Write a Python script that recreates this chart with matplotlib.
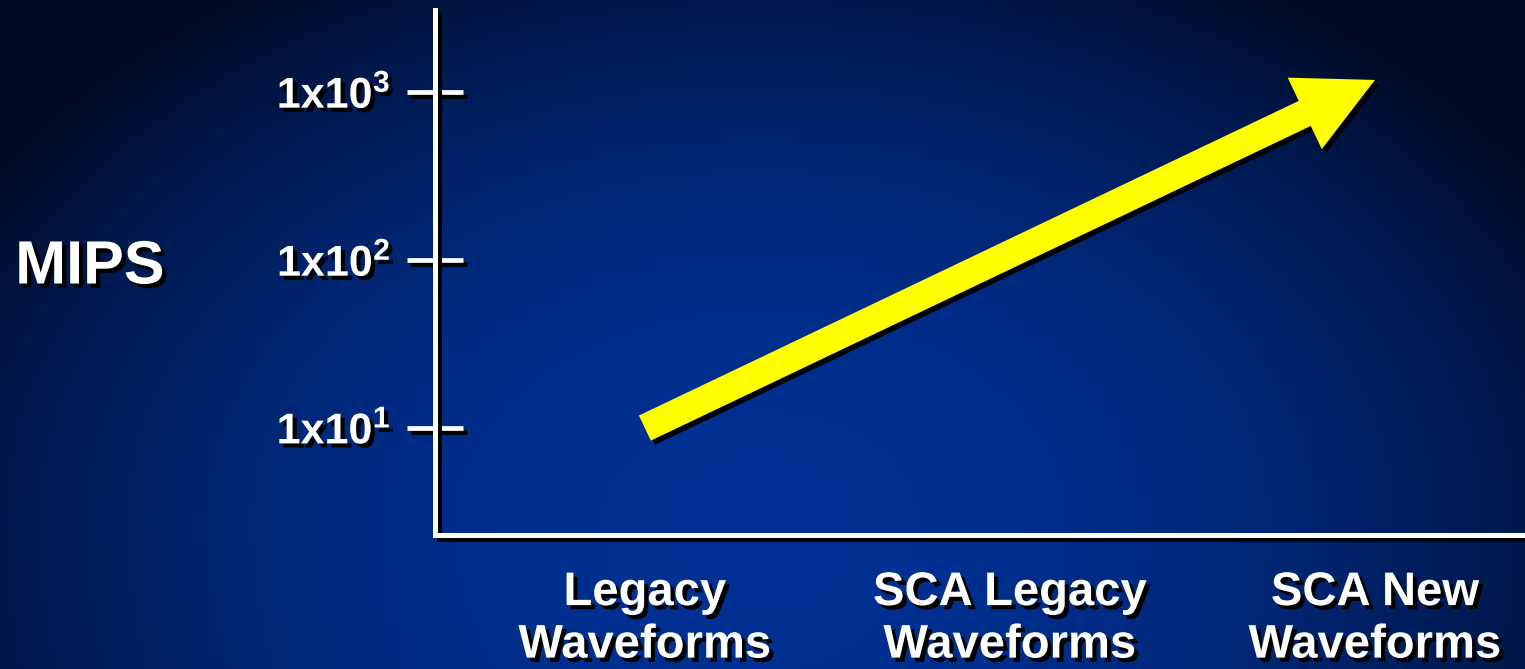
import numpy as np
import matplotlib.pyplot as plt
import matplotlib.patheffects as pe
from matplotlib.patches import FancyArrowPatch
from matplotlib.ticker import NullLocator

plt.rcParams['font.family'] = ['Liberation Sans', 'DejaVu Sans']
plt.rcParams['font.weight'] = 'bold'
plt.rcParams['mathtext.fontset'] = 'custom'
plt.rcParams['mathtext.rm'] = 'Liberation Sans:bold'
plt.rcParams['mathtext.bf'] = 'Liberation Sans:bold'
plt.rcParams['mathtext.it'] = 'Liberation Sans:bold'

# chart data
categories = ['Legacy\nWaveforms', 'SCA Legacy\nWaveforms', 'SCA New\nWaveforms']
mips_ticks = [10, 100, 1000]
tick_labels = [r'$\mathbf{1x10^{1}}$', r'$\mathbf{1x10^{2}}$', r'$\mathbf{1x10^{3}}$']
arrow_start = 10
arrow_end = 1180

W, H = 1525, 669
fig = plt.figure(figsize=(W / 100, H / 100), dpi=100)

# slide background: dark navy edges, brighter blue towards the lower centre
yy, xx = np.mgrid[0:H, 0:W]
ry = np.where(yy < 520, 640.0, 900.0)
r2 = ((xx - 760) / 930.0) ** 2 + ((yy - 520) / ry) ** 2
t = np.clip(1 - r2, 0, 1) ** 0.9
dark = np.array([0, 9, 32]) / 255.0
bright = np.array([0, 49, 148]) / 255.0
img = dark[None, None, :] + (bright - dark)[None, None, :] * t[:, :, None]
bg = fig.add_axes([0, 0, 1, 1])
bg.imshow(img, extent=[0, 1, 0, 1], aspect='auto', origin='upper')
bg.axis('off')

shadow = [pe.SimpleLineShadow(offset=(3, -3), shadow_color='k', alpha=1), pe.Normal()]
txt_shadow = [pe.withSimplePatchShadow(offset=(3, -3), shadow_rgbFace='k', alpha=1)]

ax = fig.add_axes([435 / W, 134 / H, 1 - 435 / W, (659 - 134) / H])
ax.patch.set_alpha(0)
ax.set_yscale('log')
ax.set_ylim(2.31, 3077)
ax.set_xlim(-0.575, 2.411)
ax.yaxis.set_minor_locator(NullLocator())

for s in ['top', 'right']:
    ax.spines[s].set_visible(False)
for s in ['left', 'bottom']:
    ax.spines[s].set_color('white')
    ax.spines[s].set_linewidth(3.6)
    ax.spines[s].set_path_effects(shadow)

ax.set_yticks(mips_ticks)
ax.set_yticklabels(tick_labels, fontsize=31, color='white')
ax.tick_params(axis='y', direction='inout', length=40, width=3.4, color='white', pad=12)
for tk in ax.yaxis.get_major_ticks():
    tk.tick1line.set_path_effects(shadow)
for lab in ax.get_yticklabels():
    lab.set_path_effects(txt_shadow)

ax.set_xticks(range(len(categories)))
ax.set_xticklabels(categories, fontsize=34, color='white', fontweight='bold', linespacing=1.25)
ax.tick_params(axis='x', length=0, pad=26)
for lab in ax.get_xticklabels():
    lab.set_path_effects(txt_shadow)

arrow = FancyArrowPatch((0, arrow_start), (2, arrow_end),
                        arrowstyle='simple,head_length=56,head_width=57,tail_width=20',
                        mutation_scale=1, shrinkA=0, shrinkB=0,
                        facecolor='#ffff00', edgecolor='none', clip_on=False,
                        path_effects=txt_shadow)
ax.add_patch(arrow)

fig.text(90 / W, 1 - 268 / H, 'MIPS', fontsize=44, color='white', fontweight='bold',
         ha='center', va='center', path_effects=txt_shadow)

fig.savefig('out.png', dpi=100)
